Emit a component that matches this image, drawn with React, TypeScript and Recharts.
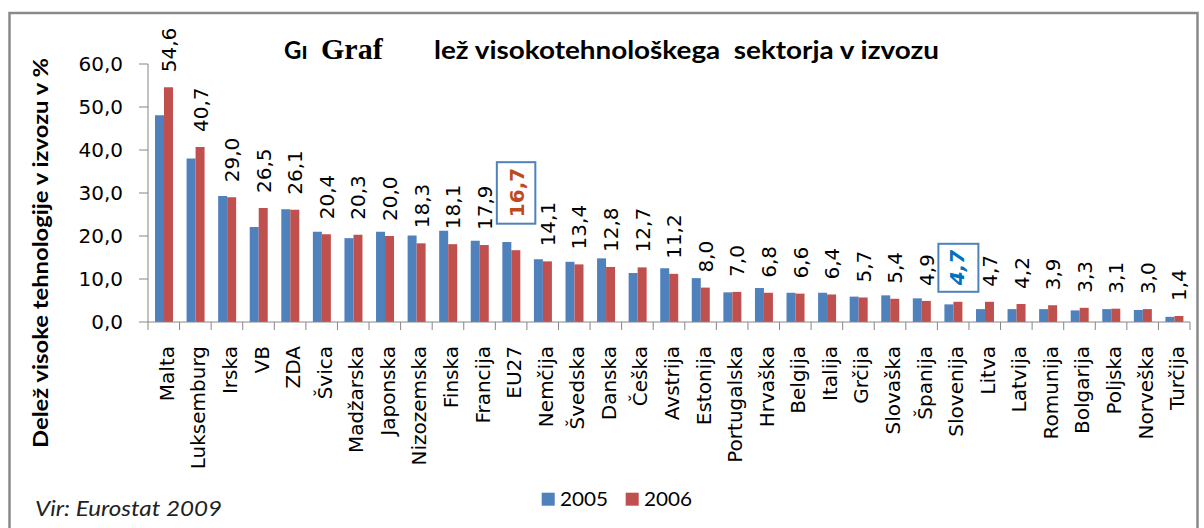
import React from 'react';
import { BarChart, Bar, XAxis, YAxis, Legend, LabelList } from 'recharts';

const categories = [
  'Malta', 'Luksemburg', 'Irska', 'VB', 'ZDA', 'Švica', 'Madžarska', 'Japonska', 'Nizozemska',
  'Finska', 'Francija', 'EU27', 'Nemčija', 'Švedska', 'Danska', 'Češka', 'Avstrija', 'Estonija',
  'Portugalska', 'Hrvaška', 'Belgija', 'Italija', 'Grčija', 'Slovaška', 'Španija', 'Slovenija',
  'Litva', 'Latvija', 'Romunija', 'Bolgarija', 'Poljska', 'Norveška', 'Turčija',
];
const values2005 = [
  48.1, 38.0, 29.3, 22.1, 26.2, 21.0, 19.5, 21.0, 20.1, 21.2, 18.9, 18.6, 14.6, 14.0, 14.8, 11.4,
  12.5, 10.2, 6.9, 7.9, 6.8, 6.8, 5.9, 6.2, 5.5, 4.1, 3.0, 3.0, 3.0, 2.7, 3.0, 2.8, 1.2,
];
const values2006 = [
  54.6, 40.7, 29.0, 26.5, 26.1, 20.4, 20.3, 20.0, 18.3, 18.1, 17.9, 16.7, 14.1, 13.4, 12.8, 12.7,
  11.2, 8.0, 7.0, 6.8, 6.6, 6.4, 5.7, 5.4, 4.9, 4.7, 4.7, 4.2, 3.9, 3.3, 3.1, 3.0, 1.4,
];
const yTicks = [0, 10, 20, 30, 40, 50, 60];
const seriesNames = ['2005', '2006'];
const highlightEU = 'EU27';
const highlightSI = 'Slovenija';
const titleParts = ['Gı', 'Graf', 'lež visokotehnološkega  sektorja v izvozu'];
const yTitle = 'Delež visoke tehnologije v izvozu v %';
const sourceText = 'Vir: Eurostat 2009';

const data = categories.map((name, i) => ({ name, v2005: values2005[i], v2006: values2006[i] }));

const W = 1204;
const H = 528;
const MARGIN = { top: 64, right: 14, bottom: 56, left: 88 };
const Y_AXIS_W = 60;
const PLOT_W = W - MARGIN.left - MARGIN.right - Y_AXIS_W;
const BAND = PLOT_W / categories.length;
const BLUE = '#4F81BD';
const RED = '#C0504D';
const AXIS = '#868686';
const FONT = '"DejaVu Sans", Verdana, sans-serif';
const CAL = 'Lato, "Open Sans", sans-serif';

const fmt = (v: number) => v.toFixed(1).replace('.', ',');

const XTick = (props: any) => {
  const { x, y, payload, index } = props;
  const last = index === categories.length - 1;
  return (
    <g>
      <line x1={x - BAND / 2} x2={x - BAND / 2} y1={y} y2={y + 8} stroke={AXIS} />
      {last && <line x1={x + BAND / 2} x2={x + BAND / 2} y1={y} y2={y + 8} stroke={AXIS} />}
      <text
        transform={`translate(${x + 10},${y + 24}) rotate(-90)`}
        textAnchor="end"
        fontSize={20}
        fontFamily={FONT}
        fill="#000"
      >
        {payload.value}
      </text>
    </g>
  );
};

const DataLabel = (props: any) => {
  const vb = props.viewBox || {};
  const x = props.x ?? vb.x;
  const y = props.y ?? vb.y;
  const { value, index } = props;
  const name = categories[index];
  const cx = x; // left edge of 2006 bar = category centre
  if (name === highlightEU) {
    return (
      <g>
        <rect x={cx - 14.5} y={y - 88} width={38.5} height={61.5} fill="#fff" stroke={BLUE} strokeWidth={2} />
        <text
          transform={`translate(${cx + 13},${y - 33}) rotate(-90)`}
          textAnchor="start"
          fontSize={20}
          fontWeight="bold"
          fontFamily={FONT}
          fill="#BE4B1E"
        >
          {fmt(value)}
        </text>
      </g>
    );
  }
  if (name === highlightSI) {
    return (
      <g>
        <rect x={cx - 15} y={y - 58} width={40} height={48} fill="#fff" stroke={BLUE} strokeWidth={2} />
        <text
          transform={`translate(${cx + 11},${y - 16.5}) rotate(-90)`}
          textAnchor="start"
          fontSize={20}
          fontWeight="bold"
          fontStyle="italic"
          fontFamily={FONT}
          fill="#0070C0"
        >
          {fmt(value)}
        </text>
      </g>
    );
  }
  return (
    <text
      transform={`translate(${cx + 12},${y - 15}) rotate(-90)`}
      textAnchor="start"
      fontSize={20}
      fontFamily={FONT}
      fill="#000"
    >
      {fmt(value)}
    </text>
  );
};

const LegendContent = (props: any) => {
  const payload = props.payload || [];
  return (
    <svg width={170} height={26}>
      {payload.map((p: any, i: number) => (
        <g key={i} transform={`translate(${i * 84},0)`}>
          <rect x={1.7} y={6.7} width={13} height={13} fill={p.color} />
          <text x={20} y={20} fontSize={20} fontFamily={CAL} fill="#000" textLength={48} lengthAdjust="spacingAndGlyphs">
            {p.value}
          </text>
        </g>
      ))}
    </svg>
  );
};

export default function App() {
  return (
    <div style={{ position: 'absolute', left: 0, top: 0, width: W, height: H, background: '#fff' }}>
      <BarChart width={W} height={H} data={data} margin={MARGIN} barGap={0}>
        <XAxis
          dataKey="name"
          interval={0}
          height={150}
          tickLine={false}
          tickSize={0}
          tickMargin={0}
          axisLine={{ stroke: AXIS }}
          tick={<XTick />}
        />
        <YAxis
          width={Y_AXIS_W}
          domain={[0, 60]}
          ticks={yTicks}
          interval={0}
          tickFormatter={fmt}
          tickSize={9}
          tickMargin={16}
          axisLine={{ stroke: AXIS }}
          tickLine={{ stroke: AXIS }}
          tick={{ fontSize: 20, fontFamily: FONT, fill: '#000' }}
        />
        <Legend
          layout="horizontal"
          verticalAlign="middle"
          align="center"
          wrapperStyle={{ top: 486, left: 540, width: 170, height: 26 }}
          content={<LegendContent />}
        />
        <Bar dataKey="v2005" name={seriesNames[0]} fill={BLUE} barSize={9} isAnimationActive={false} />
        <Bar dataKey="v2006" name={seriesNames[1]} fill={RED} barSize={9} isAnimationActive={false}>
          <LabelList dataKey="v2006" content={<DataLabel />} />
        </Bar>
      </BarChart>
      <svg
        width={W}
        height={H}
        style={{ position: 'absolute', left: 0, top: 0, pointerEvents: 'none' }}
      >
        <rect x={9.5} y={13} width={1188} height={560} fill="none" stroke="#8a8a8a" strokeWidth={2.5} />
        <text x={284} y={59} fontSize={24} fontWeight="bold" fontFamily={CAL} fill="#000">
          {titleParts[0]}
        </text>
        <text x={321} y={59} fontSize={30} fontWeight="bold" fontFamily='"Liberation Serif", "Times New Roman", serif' fill="#000">
          {titleParts[1]}
        </text>
        <text
          x={434}
          y={59}
          fontSize={24}
          fontWeight="bold"
          fontFamily={CAL}
          fill="#000"
          textLength={505}
          lengthAdjust="spacingAndGlyphs"
          style={{ whiteSpace: 'pre' }}
        >
          {titleParts[2]}
        </text>
        <text
          transform="translate(48,448) rotate(-90)"
          fontSize={21}
          fontWeight="bold"
          fontFamily={CAL}
          fill="#000"
          textLength={390}
          lengthAdjust="spacingAndGlyphs"
        >
          {yTitle}
        </text>
        <text
          x={35}
          y={516}
          fontSize={21}
          fontStyle="italic"
          fontFamily={CAL}
          fill="#222"
          textLength={187}
          lengthAdjust="spacingAndGlyphs"
        >
          {sourceText}
        </text>
      </svg>
    </div>
  );
}
